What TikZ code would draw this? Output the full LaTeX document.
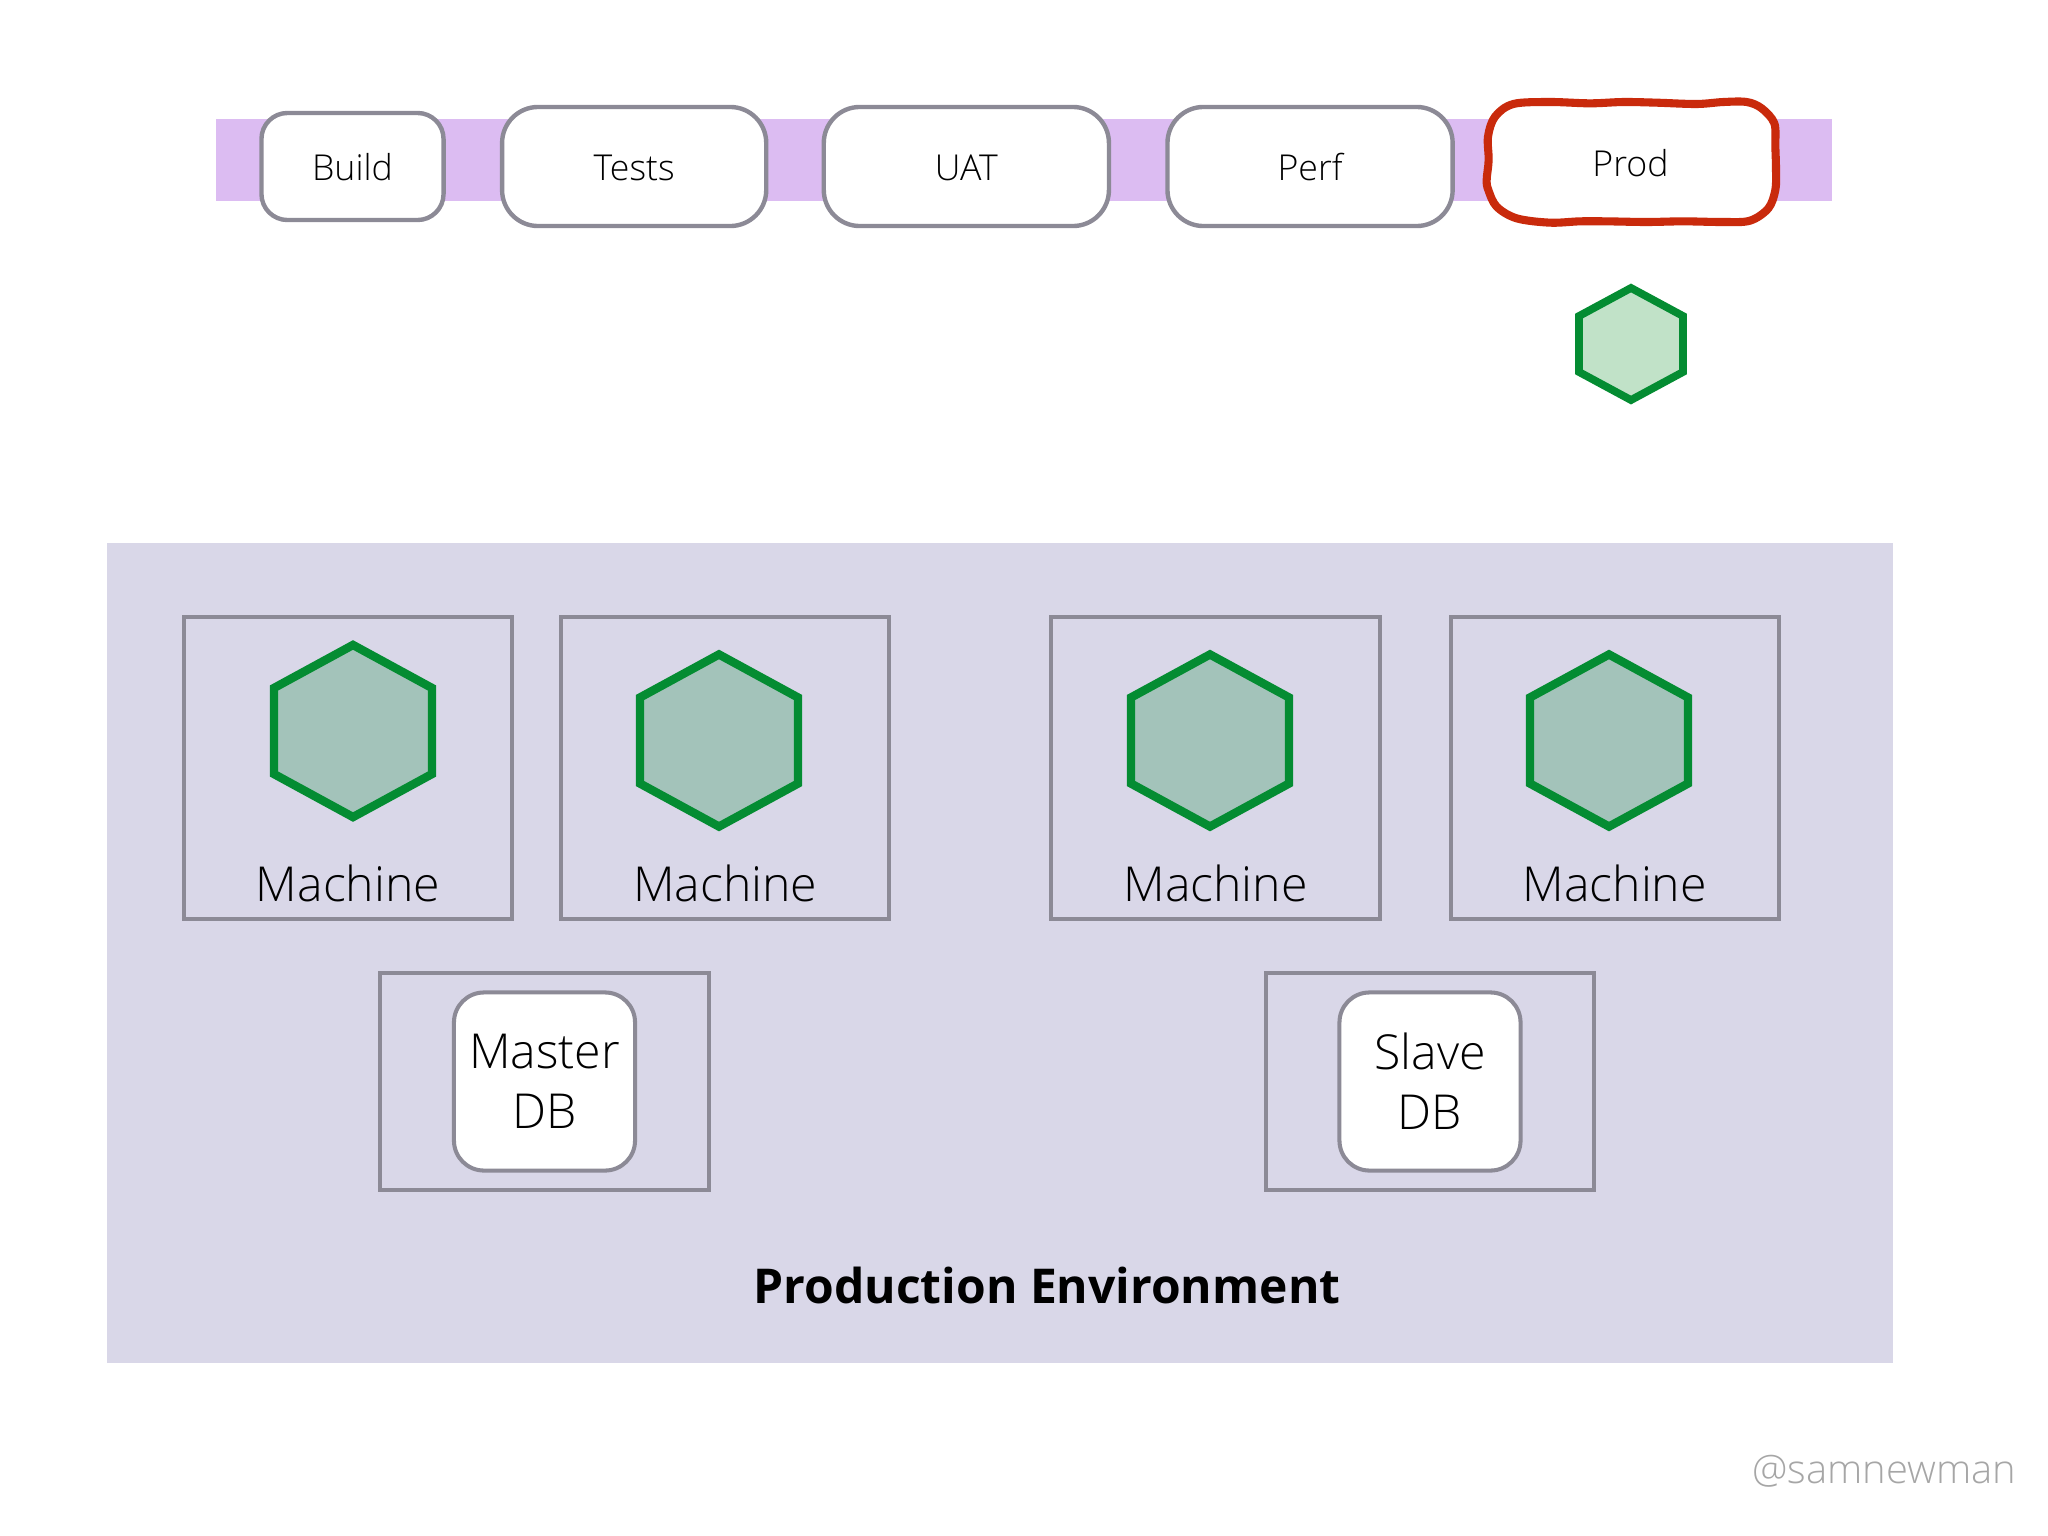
\documentclass[tikz,border=0pt]{standalone}
\usepackage{fontspec}
\setmainfont{Open Sans}[UprightFont=* Light,BoldFont=* Bold]
\usepackage{tikz}
\usetikzlibrary{positioning,shapes.geometric}
\definecolor{bandcol}{RGB}{220,188,242}
\definecolor{envcol}{RGB}{217,215,232}
\definecolor{edgecol}{RGB}{140,138,150}
\definecolor{hexcol}{RGB}{4,140,50}
\definecolor{redcol}{RGB}{201,42,12}
\tikzset{
  band/.style     ={fill=bandcol,minimum width=16.16cm,minimum height=.82cm,inner sep=0,outer sep=0},
  envbox/.style   ={fill=envcol,minimum width=17.84cm,minimum height=8.2cm,inner sep=0,outer sep=0},
  stagebox/.style ={draw=edgecol,fill=white,line width=1.25pt,rounded corners=.36cm,text height=2.9mm,
                    minimum height=1.19cm,inner sep=0,outer sep=0,font=\fontsize{10.15}{12}\selectfont},
  prodline/.style ={draw=redcol,fill=white,line width=2.3pt,line join=round},
  hostbox/.style  ={draw=edgecol,line width=1.15pt,minimum width=3.28cm,inner sep=0,outer sep=0},
  dbbox/.style    ={draw=edgecol,fill=white,line width=1.15pt,rounded corners=.3cm,align=center,
                    minimum width=1.81cm,minimum height=1.78cm,inner sep=0,outer sep=0,
                    font=\fontsize{13.7}{17}\selectfont},
  hexbig/.style   ={regular polygon,regular polygon sides=6,shape border rotate=90,draw=hexcol,
                    fill={rgb,255:red,163;green,195;blue,186},line width=2.4pt,minimum size=1.72cm,
                    inner sep=0,xscale=1.06,transform shape},
  hexsmall/.style ={regular polygon,regular polygon sides=6,shape border rotate=90,draw=hexcol,
                    fill={rgb,255:red,193;green,226;blue,200},line width=2.2pt,minimum size=1.12cm,
                    inner sep=0,xscale=1.07,transform shape},
  hostlab/.style  ={inner sep=0,font=\fontsize{13.7}{16}\selectfont},
}
\begin{document}
\begin{tikzpicture}[x=.01cm,y=-.01cm]
\useasboundingbox (0,0) rectangle (2048,1536);
\node[envbox] (E) at (1000,953) {};
\node[band] (B) at (1024,160) {};
% stages
\node[stagebox,minimum width=1.82cm,minimum height=1.07cm,rounded corners=.26cm] (build) at (352.5,166.5) {Build};
\node[stagebox,minimum width=2.64cm,right=5.85mm of build] (tests) {Tests};
\node[stagebox,minimum width=2.85cm,right=5.75mm of tests] (uat) {UAT};
\node[stagebox,minimum width=2.85cm,right=5.85mm of uat] (perf) {Perf};
% hand drawn ring
\begin{scope}[shift={(1440,80)},x=.01cm/3,y=-.01cm/3]
\draw[prodline] plot[smooth cycle,tension=.55] coordinates {
  (220,72) (330,66) (450,70) (550,66) (650,68) (770,72) (850,66) (920,66)
  (965,85) (1003,130) (1006,200) (1008,270) (1006,330) (985,385) (930,422)
  (850,426) (730,424) (620,426) (500,424) (420,424) (330,428) (230,415)
  (170,380) (145,330) (140,300) (146,240) (144,170) (165,110)};
\end{scope}
\node[font=\fontsize{10.15}{12}\selectfont] (prod) at (1630.5,163) {Prod};
\node[hexsmall] (artifact) at (1631,344) {};
% machines
\node[hostbox,minimum height=3.02cm] (m1) at (348,768) {};
\node[hostbox,minimum height=3.02cm,right=.49cm of m1] (m2) {};
\node[hostbox,minimum height=3.02cm,right=1.62cm of m2] (m3) {};
\node[hostbox,minimum height=3.02cm,right=.71cm of m3] (m4) {};
\node[hexbig] (h1) at (353,731) {};
\node[hexbig] (h2) at (719,740.5) {};
\node[hexbig] (h3) at (1210,740.5) {};
\node[hexbig] (h4) at (1609,740.5) {};
\node[hostlab,above=1.6mm of m1.south] (l1) {Machine};
\node[hostlab,above=1.6mm of m2.south] (l2) {Machine};
\node[hostlab,above=1.6mm of m3.south] (l3) {Machine};
\node[hostlab,above=1.6mm of m4.south] (l4) {Machine};
% databases
\node[hostbox,minimum height=2.17cm] (d1) at (544.5,1081.5) {};
\node[hostbox,minimum height=2.17cm] (d2) at (1430,1081.5) {};
\node[dbbox] (master) at (d1) {Master\\DB};
\node[dbbox] (slave) at (d2) {Slave\\DB};
\node[font=\bfseries\fontsize{13.65}{16}\selectfont] (title) at (1047,1285) {Production Environment};
\node[text=gray!70,font=\fontsize{11.35}{14}\selectfont] (credit) at (1884,1471) {@samnewman};
\end{tikzpicture}
\end{document}
